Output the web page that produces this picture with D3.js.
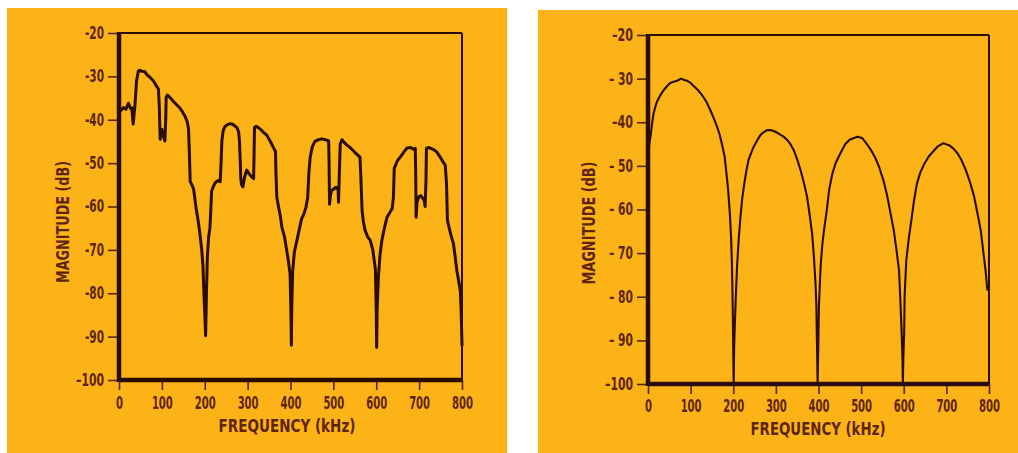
<!DOCTYPE html>
<html><head><meta charset="utf-8">
<script src="https://cdn.jsdelivr.net/npm/d3@7"></script>
<style>
html,body{margin:0;padding:0;background:#fff;}
svg{display:block;}
text{font-family:"DejaVu Sans Condensed","DejaVu Sans",sans-serif;fill:#5e2408;}
</style></head>
<body>
<svg id="chart" width="1018" height="453"></svg>
<script>
// ---- data ----
const xTickValues = [0,100,200,300,400,500,600,700,800];
const xTickLabels = ["0","100","200","300","400","500","600","700","800"];
const yTickValues = [-20,-30,-40,-50,-60,-70,-80,-90,-100];
const yTickLabelsL = ["-20","-30","-40","-50","-60","-70","-80","-90","\u2013100"];
const yTickLabelsR = ["\u201320","\u2013 30","\u201340","\u2013 50","\u2013 60","\u2013 70","\u2013 80","\u2013 90","\u2013100"];
const xTitle = "FREQUENCY (kHz)";
const yTitle = "MAGNITUDE (dB)";

// left panel: measured spectrum
const freqL = [0,5,10,16,22,27,30,33,35,37,41,45,49,53,60,65,72,80,86,92,94,96,98,100,103,107,109,110,113,115,120,127,135,142,148,154,159,162,164,166,170,174,180,185,189,193,196,198,200,202,204,206,209,212,214,216,220,224,228,232,236,238,240,243,247,252,259,266,275,279,281,283,284,286,289,293,298,303,308,314,315,316,320,325,331,337,345,353,359,365,366,368,372,376,380,386,391,395,399,401,402,403,405,409,415,420,426,431,436,440,443,446,451,457,465,473,481,489,490,491,493,496,501,505,508,511,512,514,516,520,524,531,539,550,562,564,567,570,574,580,586,592,598,600,601,602,605,609,613,619,625,631,637,640,642,649,656,664,672,680,687,691,692,693,695,699,704,709,712,714,716,717,722,727,734,741,749,755,761,764,766,769,774,780,784,788,792,796,798,800];
const magL = [-37.5,-37.8,-37.2,-37.6,-36.2,-37.4,-37.3,-41,-39,-37,-31,-28.8,-28.6,-28.8,-28.9,-29.6,-30.2,-31,-32,-32.9,-37,-44.5,-42.5,-42.2,-43.5,-44.9,-40,-34.8,-34.3,-34.5,-35,-35.8,-36.6,-37.3,-38.2,-39.2,-40.4,-42,-47,-54.2,-55,-56,-60.5,-63.5,-66.5,-70,-74,-80,-84.5,-89.8,-80,-72,-67,-65,-61,-56.5,-55.4,-54.6,-54.2,-54,-54.3,-50,-44.8,-42.5,-41.6,-41.2,-40.9,-41.1,-41.8,-42.8,-45,-50,-53.5,-55,-55.5,-53.2,-51.6,-52.4,-53,-53.6,-48,-41.8,-41.5,-41.8,-42.3,-42.9,-43.6,-45,-46.2,-47.3,-52,-57.8,-60,-62,-64.8,-67,-70,-72.5,-75.5,-84,-92,-83,-75,-70.5,-67.8,-65.5,-62.8,-61.8,-60.2,-58,-52,-48.6,-46.2,-45,-44.6,-44.4,-44.6,-44.9,-50,-59.5,-57.5,-56.3,-56,-55.6,-55.6,-56.2,-59,-52,-45.6,-44.6,-45.1,-45.8,-46.4,-47.5,-48.6,-53,-61,-63.5,-65.5,-67,-67.8,-70,-74.5,-84,-92.5,-84,-76.3,-71,-67.8,-65,-62.5,-61.5,-60.5,-58,-51.2,-49.5,-48.6,-47.5,-46.5,-46.4,-46.8,-46.6,-52,-62.5,-59,-57.8,-57.5,-58.2,-58.6,-60,-54,-46.6,-46.4,-46.6,-46.9,-47.4,-48.6,-49.6,-50.5,-55,-63.2,-64.5,-66.5,-68.6,-71.5,-74.8,-77,-79.4,-84,-92];

// right panel: theoretical spectrum
const freqR = [0,3,7,10,13,19,25,31,37,45,52,60,68,74,78,85,92,100,107,117,127,137,146,154,162,168,174,180,184,188,192,195,197,198,199,200,201,202,203,206,209,213,217,221,226,231,236,242,248,256,264,271,279,287,295,303,311,318,326,334,342,350,358,366,373,379,385,389,393,395,396,397,398,399,400,401,405,409,414,419,425,432,440,448,455,463,473,483,492,502,512,522,532,542,552,561,569,577,583,589,592,595,597,598,599,601,602,606,612,618,624,631,639,649,659,669,679,693,707,716,726,735,745,755,765,773,781,787,792,796,800];
const magR = [-48.5,-45,-42.5,-40,-38,-35.8,-34.5,-33.5,-32.6,-31.7,-31,-30.7,-30.5,-30.2,-30,-30.3,-30.5,-31,-31.7,-32.6,-33.8,-35.3,-37.2,-39,-41,-42.8,-45.2,-48,-51.7,-55.5,-60.9,-66.5,-73,-78,-84,-92,-100,-92,-88.4,-80,-73,-66.5,-61.6,-57.5,-54,-51,-48.6,-47,-45.6,-44.2,-42.9,-42.3,-41.8,-41.8,-42,-42.4,-42.9,-43.3,-44,-45,-46.4,-48.5,-51,-54,-57,-61,-65.5,-70.5,-77,-82,-88.4,-94,-100,-94,-88.4,-82,-73,-68,-64,-60.5,-55.5,-52,-49.4,-47.8,-46.4,-45,-44,-43.6,-43.3,-43.6,-44.8,-46.2,-47.9,-50.2,-53.2,-56.8,-60.9,-65,-69.3,-74,-80.7,-88,-94,-100,-94,-88.4,-80,-71.6,-66.5,-62.4,-58,-54,-51.5,-49.4,-47.8,-46.7,-45.6,-44.8,-45.3,-46,-47.1,-48.6,-50.8,-53.6,-57,-60.9,-65,-70,-74,-78.4];

// ---- drawing ----
const svg = d3.select("#chart");
const orange = "#fcb317";
const ink = "#2a0c03";
const tickInk = "#5a2410";
const textInk = "#5e2408";
const FONT = '"DejaVu Sans Condensed","DejaVu Sans",sans-serif';
const FS = 17;
const charW = {"-":5, "\u2013":7, " ":3};

// the reference uses a condensed typeface: fit each label to its measured width
function fit(sel){
  sel.each(function(){
    const s = this.textContent;
    let w = 0; for (const c of s) w += (charW[c] !== undefined ? charW[c] : 7);
    d3.select(this).attr("textLength", w).attr("lengthAdjust","spacingAndGlyphs");
  });
}

function panel(cfg){
  const g = svg.append("g");
  g.append("rect").attr("x",cfg.bg[0]).attr("y",cfg.bg[1]).attr("width",cfg.bg[2]).attr("height",cfg.bg[3]).attr("fill",orange);
  const x = d3.scaleLinear().domain([0,800]).range(cfg.xr);
  const y = d3.scaleLinear().domain([-100,-20]).range(cfg.yr);

  const yAxis = d3.axisLeft(y).tickValues(yTickValues).tickFormat((d,i)=>cfg.yLabels[i]).tickSize(11).tickPadding(4);
  const ya = g.append("g").attr("transform",`translate(${cfg.xr[0]},0)`).call(yAxis);
  ya.attr("font-size",FS).attr("font-family",null);
  ya.select(".domain").remove();
  ya.selectAll(".tick line").attr("stroke",tickInk).attr("stroke-width",1.6);
  const yt = ya.selectAll(".tick text").style("font-size",FS+"px").style("font-weight","bold").style("fill",textInk)
    .style("font-family",FONT);
  fit(yt);

  const xAxis = d3.axisBottom(x).tickValues(xTickValues).tickFormat((d,i)=>xTickLabels[i]).tickSize(10).tickPadding(cfg.xPad);
  const xa = g.append("g").attr("transform",`translate(0,${cfg.yr[0]})`).call(xAxis);
  xa.attr("font-size",FS).attr("font-family",null);
  xa.select(".domain").remove();
  xa.selectAll(".tick line").attr("stroke",tickInk).attr("stroke-width",1.6);
  const xt = xa.selectAll(".tick text").style("font-size",FS+"px").style("font-weight","bold").style("fill",textInk)
    .style("font-family",FONT);
  fit(xt);

  // frame
  const [x0,x1] = cfg.xr, [y1,y0] = cfg.yr;
  g.append("line").attr("x1",x0).attr("x2",x1).attr("y1",y0).attr("y2",y0).attr("stroke",ink).attr("stroke-width",2);
  g.append("line").attr("x1",x1).attr("x2",x1).attr("y1",y0).attr("y2",y1).attr("stroke",ink).attr("stroke-width",2);

  // curve
  const line = d3.line().x((d,i)=>x(cfg.fx[i])).y((d,i)=>y(cfg.my[i]));
  g.append("path").datum(cfg.fx).attr("d",line).attr("fill","none").attr("stroke",ink)
    .attr("stroke-width",cfg.lw).attr("stroke-linejoin","round").attr("stroke-linecap","round");

  g.append("line").attr("x1",x0).attr("x2",x1).attr("y1",y1).attr("y2",y1).attr("stroke",ink).attr("stroke-width",4.5);
  g.append("line").attr("x1",x0).attr("x2",x0).attr("y1",y0-1).attr("y2",y1+2).attr("stroke",ink).attr("stroke-width",4.5);

  g.append("text").attr("x",cfg.xtX).attr("y",cfg.xtY).attr("text-anchor","middle")
    .style("font-size","18px").style("font-weight","bold").style("fill",textInk)
    .attr("textLength",cfg.xtW).attr("lengthAdjust","spacingAndGlyphs").text(xTitle);
  g.append("text").attr("transform",`translate(${cfg.ytX},${cfg.ytY}) rotate(-90)`).attr("text-anchor","middle")
    .style("font-size","17px").style("font-weight","bold").style("fill",textInk)
    .attr("textLength",cfg.ytW).attr("lengthAdjust","spacingAndGlyphs").text(yTitle);
}

panel({bg:[7,8,500,445], xr:[119,462], yr:[380,33], yLabels:yTickLabelsL, fx:freqL, my:magL, lw:3, xPad:7,
       xtX:287, xtY:432, xtW:137, ytX:69, ytY:222, ytW:122});
panel({bg:[538,10,480,443], xr:[648,989], yr:[384,35], yLabels:yTickLabelsR, fx:freqR, my:magR, lw:2.1, xPad:6,
       xtX:818, xtY:435, xtW:135, ytX:595, ytY:223, ytW:123});
</script>
</body></html>
